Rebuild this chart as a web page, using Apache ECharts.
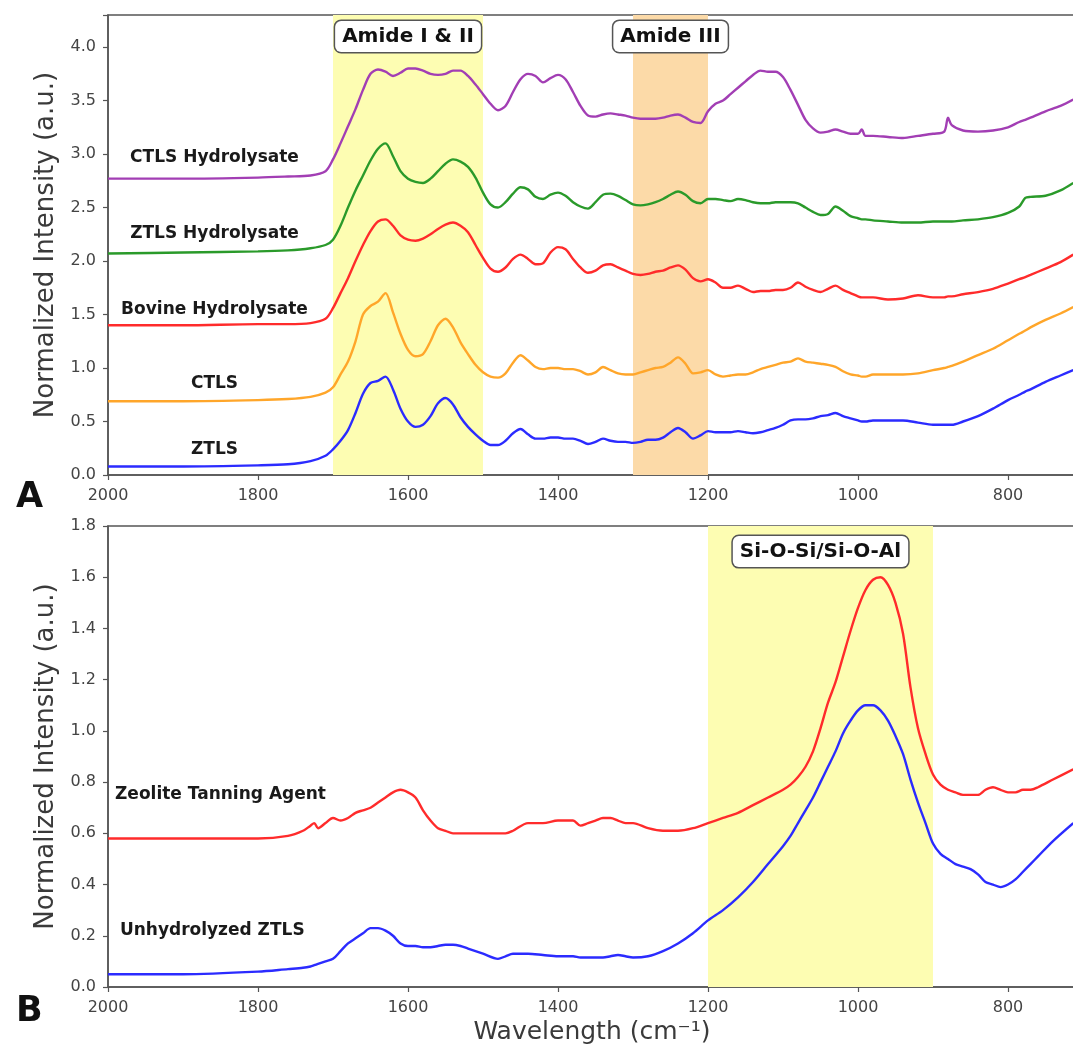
<!DOCTYPE html>
<html>
<head>
<meta charset="utf-8">
<script src="https://cdn.jsdelivr.net/npm/echarts@6/dist/echarts.min.js"></script>
<style>
  html, body { margin: 0; padding: 0; background: #fff; }
  #main { width: 1073px; height: 1048px; }
</style>
</head>
<body>
<div id="main"></div>
<script>
// panel A wavenumbers (cm-1)
const waveA = [2000, 1900, 1800, 1760, 1730, 1710, 1700,
  1690, 1680, 1670, 1660, 1650, 1640, 1630, 1620, 1610, 1600,
  1590, 1580, 1570, 1560, 1550, 1540, 1530, 1520, 1510, 1500,
  1490, 1480, 1470, 1460, 1450, 1440, 1430, 1420, 1410, 1400,
  1390, 1380, 1370, 1360, 1350, 1340, 1330, 1320, 1310, 1300,
  1290, 1280, 1270, 1260, 1250, 1240, 1230, 1220, 1210, 1200,
  1190, 1180, 1170, 1160, 1150, 1140, 1130, 1120, 1110, 1100,
  1090, 1080, 1070, 1060, 1050, 1040, 1030, 1020, 1010, 1000,
  995, 990, 980, 960, 940, 920, 900, 885, 880, 875, 860, 840, 820, 800, 785, 777, 770, 750, 730, 713];

const ctlsHydro = [2.77, 2.77, 2.78, 2.79, 2.80, 2.84, 2.95,
  3.10, 3.26, 3.42, 3.60, 3.75, 3.79, 3.77, 3.73, 3.76, 3.80,
  3.80, 3.78, 3.75, 3.74, 3.75, 3.78, 3.78, 3.73, 3.65, 3.56,
  3.47, 3.41, 3.45, 3.58, 3.70, 3.75, 3.73, 3.67, 3.71, 3.74,
  3.70, 3.58, 3.45, 3.36, 3.35, 3.37, 3.38, 3.37, 3.36, 3.34,
  3.33, 3.33, 3.33, 3.34, 3.36, 3.37, 3.34, 3.30, 3.29, 3.40,
  3.47, 3.50, 3.56, 3.62, 3.68, 3.74, 3.78, 3.77, 3.77, 3.72,
  3.60, 3.46, 3.32, 3.24, 3.20, 3.21, 3.23, 3.21, 3.19, 3.19,
  3.23, 3.17, 3.17, 3.16, 3.15, 3.17, 3.19, 3.21, 3.34, 3.27, 3.22, 3.21, 3.22, 3.25, 3.30, 3.32, 3.34, 3.40, 3.45, 3.51];

const ztlsHydro = [2.07, 2.08, 2.09, 2.10, 2.12, 2.15, 2.20,
  2.33, 2.50, 2.66, 2.80, 2.94, 3.05, 3.10, 2.98, 2.84, 2.77,
  2.74, 2.73, 2.77, 2.84, 2.91, 2.95, 2.93, 2.88, 2.78, 2.64,
  2.53, 2.50, 2.55, 2.63, 2.69, 2.67, 2.60, 2.58, 2.62, 2.64,
  2.61, 2.55, 2.51, 2.49, 2.55, 2.62, 2.63, 2.61, 2.57, 2.53,
  2.52, 2.53, 2.55, 2.58, 2.62, 2.65, 2.62, 2.56, 2.54, 2.58,
  2.58, 2.57, 2.56, 2.58, 2.57, 2.55, 2.54, 2.54, 2.55, 2.55,
  2.55, 2.54, 2.50, 2.46, 2.43, 2.44, 2.51, 2.47, 2.42, 2.40,
  2.39, 2.39, 2.38, 2.37, 2.36, 2.36, 2.37, 2.37, 2.37, 2.37, 2.38, 2.39, 2.41, 2.45, 2.51, 2.59, 2.60, 2.61, 2.66, 2.73];

const bovineHydro = [1.40, 1.40, 1.41, 1.41, 1.42, 1.46, 1.56,
  1.70, 1.84, 2.00, 2.15, 2.28, 2.37, 2.39, 2.33, 2.24, 2.20,
  2.19, 2.21, 2.25, 2.30, 2.34, 2.36, 2.33, 2.27, 2.15, 2.03,
  1.93, 1.90, 1.94, 2.02, 2.06, 2.02, 1.97, 1.98, 2.08, 2.13,
  2.11, 2.02, 1.94, 1.89, 1.91, 1.96, 1.97, 1.94, 1.91, 1.88,
  1.87, 1.88, 1.90, 1.91, 1.94, 1.96, 1.92, 1.84, 1.81, 1.83,
  1.80, 1.75, 1.75, 1.77, 1.74, 1.71, 1.72, 1.72, 1.73, 1.73,
  1.75, 1.80, 1.76, 1.73, 1.71, 1.74, 1.77, 1.73, 1.70, 1.67,
  1.66, 1.66, 1.66, 1.64, 1.65, 1.68, 1.66, 1.66, 1.67, 1.67, 1.69, 1.71, 1.74, 1.79, 1.83, 1.85, 1.87, 1.93, 1.99, 2.06];

const ctls = [0.69, 0.69, 0.70, 0.71, 0.73, 0.77, 0.82,
  0.94, 1.06, 1.25, 1.50, 1.58, 1.62, 1.70, 1.52, 1.32, 1.17,
  1.11, 1.13, 1.25, 1.40, 1.46, 1.38, 1.24, 1.13, 1.03, 0.96,
  0.92, 0.91, 0.95, 1.05, 1.12, 1.07, 1.01, 0.99, 1.00, 1.00,
  0.99, 0.99, 0.97, 0.94, 0.96, 1.01, 0.98, 0.95, 0.94, 0.94,
  0.96, 0.98, 1.00, 1.01, 1.05, 1.10, 1.04, 0.95, 0.96, 0.98,
  0.94, 0.92, 0.93, 0.94, 0.94, 0.96, 0.99, 1.01, 1.03, 1.05,
  1.06, 1.09, 1.06, 1.05, 1.04, 1.03, 1.01, 0.97, 0.94, 0.93,
  0.92, 0.92, 0.94, 0.94, 0.94, 0.95, 0.98, 1.00, 1.01, 1.02, 1.06, 1.12, 1.18, 1.26, 1.32, 1.35, 1.38, 1.45, 1.51, 1.57];

const ztls = [0.08, 0.08, 0.09, 0.10, 0.13, 0.18, 0.24,
  0.32, 0.42, 0.58, 0.76, 0.86, 0.88, 0.92, 0.80, 0.62, 0.50,
  0.45, 0.47, 0.55, 0.67, 0.72, 0.66, 0.54, 0.45, 0.38, 0.32,
  0.28, 0.28, 0.32, 0.39, 0.43, 0.38, 0.34, 0.34, 0.35, 0.35,
  0.34, 0.34, 0.32, 0.29, 0.31, 0.34, 0.32, 0.31, 0.31, 0.30,
  0.31, 0.33, 0.33, 0.35, 0.40, 0.44, 0.40, 0.34, 0.37, 0.41,
  0.40, 0.40, 0.40, 0.41, 0.40, 0.39, 0.40, 0.42, 0.44, 0.47,
  0.51, 0.52, 0.52, 0.53, 0.55, 0.56, 0.58, 0.55, 0.53, 0.51,
  0.50, 0.50, 0.51, 0.51, 0.51, 0.49, 0.47, 0.47, 0.47, 0.47, 0.50, 0.55, 0.62, 0.70, 0.75, 0.78, 0.80, 0.87, 0.93, 0.98];

// panel B wavenumbers (cm-1)
const waveB = [2000, 1900, 1800, 1760, 1740, 1730, 1725, 1720, 1710, 1700,
  1690, 1680, 1670, 1660, 1650, 1640, 1630, 1620, 1610, 1600,
  1590, 1580, 1570, 1560, 1550, 1540, 1530, 1520, 1500, 1480,
  1470, 1460, 1440, 1420, 1400, 1390, 1380, 1370, 1360, 1350,
  1340, 1330, 1320, 1310, 1300, 1280, 1260, 1240, 1220, 1200,
  1180, 1160, 1140, 1120, 1100, 1090, 1080, 1070, 1060, 1050,
  1040, 1030, 1020, 1010, 1000, 990, 980, 970, 960, 950,
  940, 930, 920, 910, 900, 890, 880, 870, 860, 850,
  840, 830, 820, 810, 800, 790, 780, 770, 760, 740, 713];

const zeolite = [0.58, 0.58, 0.58, 0.59, 0.61, 0.63, 0.64, 0.62, 0.64, 0.66,
  0.65, 0.66, 0.68, 0.69, 0.70, 0.72, 0.74, 0.76, 0.77, 0.76,
  0.74, 0.69, 0.65, 0.62, 0.61, 0.60, 0.60, 0.60, 0.60, 0.60,
  0.60, 0.61, 0.64, 0.64, 0.65, 0.65, 0.65, 0.63, 0.64, 0.65,
  0.66, 0.66, 0.65, 0.64, 0.64, 0.62, 0.61, 0.61, 0.62, 0.64,
  0.66, 0.68, 0.71, 0.74, 0.77, 0.79, 0.82, 0.86, 0.92, 1.01,
  1.11, 1.19, 1.29, 1.39, 1.48, 1.55, 1.59, 1.60, 1.57, 1.50,
  1.38, 1.17, 1.01, 0.91, 0.83, 0.79, 0.77, 0.76, 0.75, 0.75,
  0.75, 0.77, 0.78, 0.77, 0.76, 0.76, 0.77, 0.77, 0.78, 0.81, 0.85];

const unhydroZtls = [0.05, 0.05, 0.06, 0.07, 0.075, 0.08, 0.085, 0.09, 0.10, 0.11,
  0.14, 0.17, 0.19, 0.21, 0.23, 0.23, 0.22, 0.20, 0.17, 0.16,
  0.16, 0.155, 0.155, 0.16, 0.165, 0.165, 0.16, 0.15, 0.13, 0.11,
  0.12, 0.13, 0.13, 0.125, 0.12, 0.12, 0.12, 0.115, 0.115, 0.115,
  0.115, 0.12, 0.125, 0.12, 0.115, 0.12, 0.14, 0.17, 0.21, 0.26,
  0.30, 0.35, 0.41, 0.48, 0.55, 0.59, 0.64, 0.69, 0.74, 0.80,
  0.86, 0.92, 0.99, 1.04, 1.08, 1.10, 1.10, 1.08, 1.04, 0.98,
  0.91, 0.81, 0.72, 0.64, 0.56, 0.52, 0.50, 0.48, 0.47, 0.46,
  0.44, 0.41, 0.40, 0.39, 0.40, 0.42, 0.45, 0.48, 0.51, 0.57, 0.64];

// curve labels [wavenumber, intensity, text]
const labelsA = [[1858, 2.97, 'CTLS Hydrolysate'], [1858, 2.26, 'ZTLS Hydrolysate'],
  [1858, 1.55, 'Bovine Hydrolysate'], [1858, 0.85, 'CTLS'], [1858, 0.24, 'ZTLS']];
const labelsB = [[1850, 0.75, 'Zeolite Tanning Agent'], [1861, 0.22, 'Unhydrolyzed ZTLS']];

// shaded bands [from, to, name, label intensity]
const bandsA = [[1700, 1500, 'Amide I & II', 4.10], [1300, 1200, 'Amide III', 4.10]];
const bandsB = [[1200, 900, 'Si-O-Si/Si-O-Al', 1.70]];

const FONT = 'DejaVu Sans';
const YELLOW = '#fdfdb2';
const ORANGE = '#fcdaa8';

function zip(xs, ys) {
  return xs.map((x, i) => [x, ys[i]]);
}

function line(name, xs, ys, color, idx) {
  return {
    name: name,
    type: 'line',
    xAxisIndex: idx,
    yAxisIndex: idx,
    data: zip(xs, ys),
    showSymbol: false,
    symbol: 'none',
    smooth: 0.3,
    z: 3,
    lineStyle: { color: color, width: 2.4 },
    itemStyle: { color: color }
  };
}

function textSeries(items, idx) {
  return {
    type: 'scatter',
    xAxisIndex: idx,
    yAxisIndex: idx,
    symbolSize: 1,
    z: 6,
    itemStyle: { color: 'rgba(0,0,0,0)', opacity: 1 },
    silent: true,
    label: {
      show: true,
      position: 'inside',
      formatter: p => p.data[2],
      fontFamily: FONT,
      fontWeight: 'bold',
      fontSize: 17,
      color: '#1a1a1a',
      opacity: 1
    },
    data: items
  };
}

function boxSeries(bands, idx) {
  return {
    type: 'scatter',
    xAxisIndex: idx,
    yAxisIndex: idx,
    symbolSize: 1,
    z: 7,
    itemStyle: { color: 'rgba(0,0,0,0)', opacity: 1 },
    silent: true,
    label: {
      show: true,
      position: 'inside',
      formatter: p => p.data[2],
      fontFamily: FONT,
      fontWeight: 'bold',
      fontSize: 20,
      color: '#111',
      opacity: 1,
      backgroundColor: '#fff',
      borderColor: '#555',
      borderWidth: 1.5,
      borderRadius: 6,
      padding: [6, 7, 5, 7]
    },
    data: bands.map(b => [(b[0] + b[1]) / 2, b[3], b[2]])
  };
}

function areaSeries(bands, colors, idx) {
  return {
    type: 'line',
    xAxisIndex: idx,
    yAxisIndex: idx,
    data: [],
    z: 1,
    silent: true,
    markArea: {
      silent: true,
      data: bands.map((b, i) => [
        { xAxis: b[0], itemStyle: { color: colors[i], opacity: 1 } },
        { xAxis: b[1] }
      ])
    }
  };
}

const xAxisBase = {
  type: 'value',
  min: 600,
  max: 2000,
  interval: 200,
  inverse: true,
  axisLine: { show: true, lineStyle: { color: '#555', width: 1.5 } },
  axisTick: { show: true, length: 5, lineStyle: { color: '#555', width: 1.2 } },
  splitLine: { show: false },
  axisLabel: {
    fontFamily: FONT, fontSize: 16, color: '#444', margin: 13,
    formatter: v => (v >= 700 ? String(v) : '')
  }
};

function yAxisBase(max, step, digits) {
  return {
    type: 'value',
    min: 0,
    max: max,
    interval: step,
    name: 'Normalized Intensity (a.u.)',
    nameLocation: 'middle',
    nameGap: 49,
    nameTextStyle: { fontFamily: FONT, fontSize: 26, color: '#3a3a3a' },
    axisLine: { show: true, lineStyle: { color: '#555', width: 1.5 } },
    axisTick: { show: true, length: 5, lineStyle: { color: '#555', width: 1.2 } },
    splitLine: { show: false },
    axisLabel: {
      fontFamily: FONT, fontSize: 16, color: '#444', margin: 12,
      formatter: v => {
        const k = v / step;
        return Math.abs(k - Math.round(k)) < 1e-6 ? v.toFixed(digits) : '';
      }
    }
  };
}

const chart = echarts.init(document.getElementById('main'), null, { renderer: 'canvas' });

const option = {
  backgroundColor: '#fff',
  animation: false,
  title: [
    { text: 'A', left: 11, top: 475, textStyle: { fontFamily: FONT, fontSize: 35, fontWeight: 'bold', color: '#111' } },
    { text: 'B', left: 11, top: 989, textStyle: { fontFamily: FONT, fontSize: 35, fontWeight: 'bold', color: '#111' } }
  ],
  graphic: [
    {
      type: 'text',
      x: 592,
      y: 1032,
      silent: true,
      style: {
        text: 'Wavelength (cm⁻¹)',
        fontFamily: FONT,
        fontSize: 25,
        fill: '#3a3a3a',
        align: 'center',
        verticalAlign: 'middle'
      }
    }
  ],
  grid: [
    { left: 108, top: 15, width: 1050, height: 460, show: true, borderColor: '#555', borderWidth: 1.5, backgroundColor: 'transparent', outerBoundsMode: 'none' },
    { left: 108, top: 526, width: 1050, height: 461, show: true, borderColor: '#555', borderWidth: 1.5, backgroundColor: 'transparent', outerBoundsMode: 'none' }
  ],
  xAxis: [
    Object.assign({}, xAxisBase, { gridIndex: 0 }),
    Object.assign({}, xAxisBase, { gridIndex: 1 })
  ],
  yAxis: [
    Object.assign({}, yAxisBase(4.3, 0.5, 1), { gridIndex: 0 }),
    Object.assign({}, yAxisBase(1.8, 0.2, 1), { gridIndex: 1 })
  ],
  series: [
    areaSeries(bandsA, [YELLOW, ORANGE], 0),
    areaSeries(bandsB, [YELLOW], 1),
    line('CTLS Hydrolysate', waveA, ctlsHydro, '#a23eb4', 0),
    line('ZTLS Hydrolysate', waveA, ztlsHydro, '#2a9a2a', 0),
    line('Bovine Hydrolysate', waveA, bovineHydro, '#ff2b2b', 0),
    line('CTLS', waveA, ctls, '#ffa62a', 0),
    line('ZTLS', waveA, ztls, '#2b2bff', 0),
    line('Zeolite Tanning Agent', waveB, zeolite, '#ff2b2b', 1),
    line('Unhydrolyzed ZTLS', waveB, unhydroZtls, '#2b2bff', 1),
    textSeries(labelsA, 0),
    textSeries(labelsB, 1),
    boxSeries(bandsA, 0),
    boxSeries(bandsB, 1)
  ]
};

chart.setOption(option);
</script>
</body>
</html>
